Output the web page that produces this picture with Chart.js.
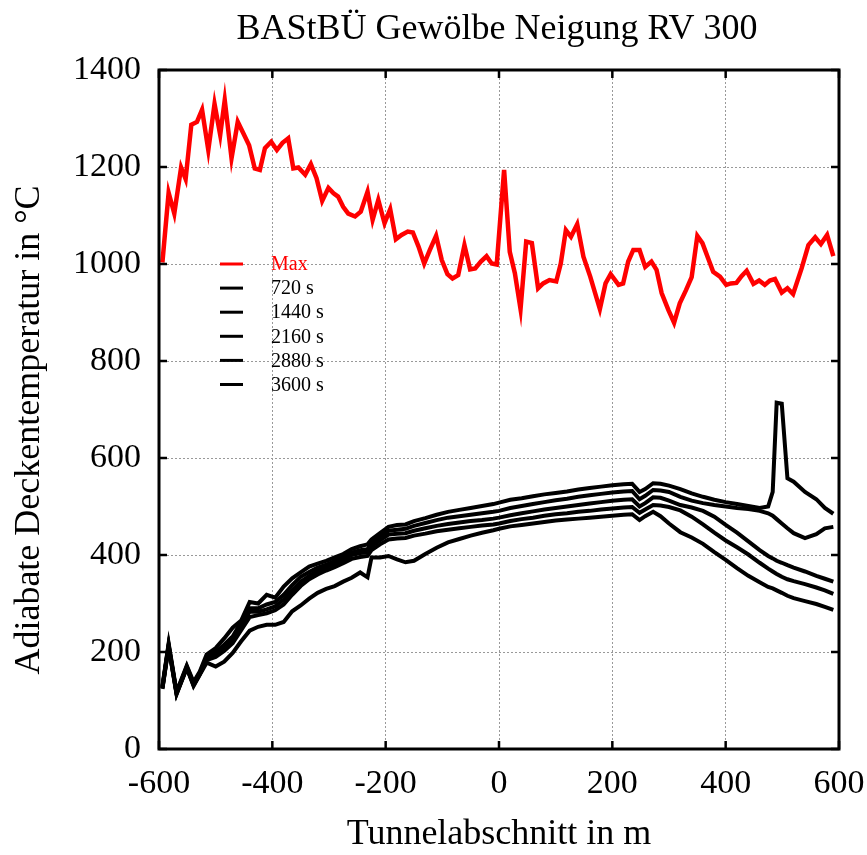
<!DOCTYPE html>
<html><head><meta charset="utf-8">
<script src="https://cdn.jsdelivr.net/npm/chart.js@4/dist/chart.umd.min.js"></script>
<style>html,body{margin:0;padding:0;background:#fff}#wrap{width:867px;height:855px;position:relative}</style>
</head><body><div id="wrap"><canvas id="c"></canvas></div>
<script>
const titleText = 'BAStBÜ Gewölbe Neigung RV 300';
const xTitle = 'Tunnelabschnitt in m';
const yTitle = 'Adiabate Deckentemperatur in °C';
const seriesLabels = ['Max', '720 s', '1440 s', '2160 s', '2880 s', '3600 s'];
const xTicks = [-600, -400, -200, 0, 200, 400, 600];
const yTicks = [0, 200, 400, 600, 800, 1000, 1200, 1400];

const maxX = [-594,-583,-573,-561,-553,-543,-533,-524,-513,-502,
  -492,-484,-472,-461,-451,-441,-431,-422,-413,-402,
  -392,-382,-372,-363,-354,-342,-332,-322,-312,-301,
  -292,-284,-275,-266,-254,-244,-232,-223,-213,-202,
  -192,-182,-172,-161,-152,-142,-132,-122,-111,-101,
  -91,-82,-72,-61,-51,-42,-32,-22,-13,-4,
  9,19,28,38,48,58,69,78,89,101,
  109,118,127,138,149,161,178,188,197,211,
  219,228,237,248,258,269,278,287,299,309,
  319,330,340,350,359,369,378,390,401,409,
  419,428,437,449,459,469,478,487,499,509,
  519,534,546,558,568,579,590];
const maxY = [1003,1147,1104,1199,1175,1287,1293,1318,1235,1330,
  1266,1338,1218,1293,1269,1245,1197,1194,1239,1252,
  1235,1250,1259,1197,1199,1184,1206,1177,1130,1157,
  1146,1139,1118,1104,1098,1108,1149,1091,1132,1084,
  1113,1051,1060,1067,1065,1036,1001,1029,1058,1008,
  979,970,977,1039,989,991,1005,1016,1001,999,
  1194,1025,981,907,1046,1043,950,960,967,964,
  1001,1070,1056,1082,1015,974,907,960,979,957,
  960,1005,1029,1029,994,1005,988,940,905,879,
  919,946,973,1058,1043,1012,984,974,957,960,
  961,975,986,959,966,957,966,969,941,950,
  938,991,1039,1055,1041,1060,1016];

const timeX = [-594,-583,-569,-551,-539,-528,-516,-500,-485,-470,
  -455,-440,-425,-410,-395,-380,-365,-350,-335,-320,
  -305,-290,-275,-260,-245,-232,-225,-210,-195,-180,
  -165,-150,-130,-110,-90,-70,-50,-30,-10,0,
  20,40,60,80,100,120,140,160,180,200,
  220,235,248,258,272,285,300,320,340,360,
  380,400,420,440,460,475,483,490,499,509,
  520,540,560,575,590];
const t720 = [124,210,113,167,130,153,178,170,180,198,
  222,244,252,256,256,262,284,296,310,322,
  330,336,345,353,364,354,395,395,398,391,
  385,388,402,415,426,433,440,446,451,454,
  459,462,465,468,471,473,475,477,479,481,
  483,484,472,480,489,480,465,447,436,423,
  406,390,373,357,344,334,331,327,322,316,
  311,305,299,293,287];
const t1440 = [125,212,114,168,132,154,183,190,202,218,
  245,272,276,280,286,298,318,336,350,360,
  368,375,383,392,396,398,410,422,432,434,
  435,440,444,449,452,455,458,461,463,465,
  470,474,477,481,484,486,489,491,494,496,
  498,499,487,494,503,502,499,492,479,463,
  446,430,416,401,384,372,366,361,355,350,
  346,340,333,327,320];
const t2160 = [126,213,115,168,132,155,185,195,210,225,
  255,283,283,288,294,308,327,345,357,367,
  375,382,390,400,404,405,418,430,442,444,
  445,450,455,460,464,467,470,472,475,477,
  482,486,490,494,497,500,503,506,509,512,
  514,515,500,507,519,518,512,503,498,491,
  479,462,446,428,410,398,393,388,384,379,
  374,366,357,351,345];
const t2880 = [128,215,116,170,135,157,190,200,215,232,
  262,290,290,298,303,318,338,355,365,374,
  380,388,396,405,410,412,425,438,450,452,
  454,460,466,472,477,480,483,486,489,491,
  497,501,505,509,513,516,520,523,526,529,
  531,532,515,522,534,533,530,520,512,507,
  503,500,497,495,491,486,481,474,465,455,
  445,435,443,455,458];
const t3600 = [130,218,118,172,138,160,195,208,228,250,
  265,303,300,318,312,335,352,364,376,382,
  388,395,402,412,418,422,432,445,458,462,
  463,470,476,483,489,493,497,501,505,508,
  514,517,521,525,528,531,535,538,541,544,
  546,547,530,536,548,547,543,536,527,520,
  514,509,505,501,497,500,530,714,712,558,
  551,530,515,497,485];

const seriesColors = ['#ff0000', '#000000', '#000000', '#000000', '#000000', '#000000'];
const pts = (xs, ys) => xs.map((v, i) => ({x: v, y: ys[i]}));
const allSeries = [pts(maxX, maxY), pts(timeX, t720), pts(timeX, t1440), pts(timeX, t2160), pts(timeX, t2880), pts(timeX, t3600)];

const SERIF = '"Liberation Serif", "Times New Roman", serif';

const framePlugin = {
  id: 'frame',
  afterDraw(chart) {
    const {ctx, chartArea: a, scales: {x, y}} = chart;
    ctx.save();
    ctx.strokeStyle = '#000';
    ctx.lineWidth = 3;
    ctx.strokeRect(a.left, a.top, a.right - a.left, a.bottom - a.top);
    ctx.lineWidth = 2.5;
    const seg = (x1, y1, x2, y2) => { ctx.beginPath(); ctx.moveTo(x1, y1); ctx.lineTo(x2, y2); ctx.stroke(); };
    xTicks.forEach(v => { const p = x.getPixelForValue(v); seg(p, a.bottom, p, a.bottom - 8); seg(p, a.top, p, a.top + 8); });
    yTicks.forEach(v => { const p = y.getPixelForValue(v); seg(a.left, p, a.left + 8, p); seg(a.right, p, a.right - 8, p); });
    ctx.fillStyle = '#000';
    ctx.font = '36px ' + SERIF;
    ctx.textAlign = 'center';
    ctx.textBaseline = 'alphabetic';
    ctx.fillText(titleText, 497, 39);
    ctx.fillText(xTitle, (a.left + a.right) / 2, 844);
    ctx.save();
    ctx.translate(39, 430);
    ctx.rotate(-Math.PI / 2);
    ctx.fillText(yTitle, 0, 0);
    ctx.restore();
    // legend
    ctx.font = '20px ' + SERIF;
    ctx.textAlign = 'left';
    ctx.textBaseline = 'middle';
    seriesLabels.forEach((lab, i) => {
      const yy = 264 + i * 24.1;
      ctx.strokeStyle = seriesColors[i];
      ctx.lineWidth = 3;
      seg(220, yy, 243, yy);
      ctx.fillStyle = seriesColors[i];
      ctx.fillText(lab, 271, yy + 1);
    });
    ctx.restore();
  }
};

new Chart(document.getElementById('c'), {
  type: 'line',
  data: {
    datasets: allSeries.map((d, i) => ({
      label: seriesLabels[i],
      data: d,
      borderColor: seriesColors[i],
      backgroundColor: seriesColors[i],
      borderWidth: i === 0 ? 4.5 : 4,
      pointRadius: 0,
      tension: 0,
      fill: false
    }))
  },
  options: {
    responsive: true,
    maintainAspectRatio: false,
    animation: false,
    devicePixelRatio: 1,
    layout: {padding: {top: 70, right: 28, left: 0, bottom: 0}},
    plugins: {legend: {display: false}, tooltip: {enabled: false}, title: {display: false}},
    scales: {
      x: {
        type: 'linear', min: -600, max: 600,
        afterFit: s => { s.height = 106; s.paddingLeft = 0; s.paddingRight = 0; },
        afterBuildTicks: s => { s.ticks = xTicks.map(v => ({value: v})); },
        ticks: {color: '#000', font: {family: SERIF, size: 34, lineHeight: 1}, padding: 18, maxRotation: 0, callback: v => String(v)},
        grid: {color: '#999', lineWidth: 1, drawTicks: false},
        border: {display: false, dash: [2, 2]}
      },
      y: {
        type: 'linear', min: 0, max: 1400,
        afterFit: s => { s.width = 159; s.paddingTop = 0; s.paddingBottom = 0; },
        afterBuildTicks: s => { s.ticks = yTicks.map(v => ({value: v})); },
        ticks: {color: '#000', font: {family: SERIF, size: 34, lineHeight: 1}, padding: 18, callback: v => String(v)},
        grid: {color: '#999', lineWidth: 1, drawTicks: false},
        border: {display: false, dash: [2, 2]}
      }
    }
  },
  plugins: [framePlugin]
});
</script>
</body></html>
